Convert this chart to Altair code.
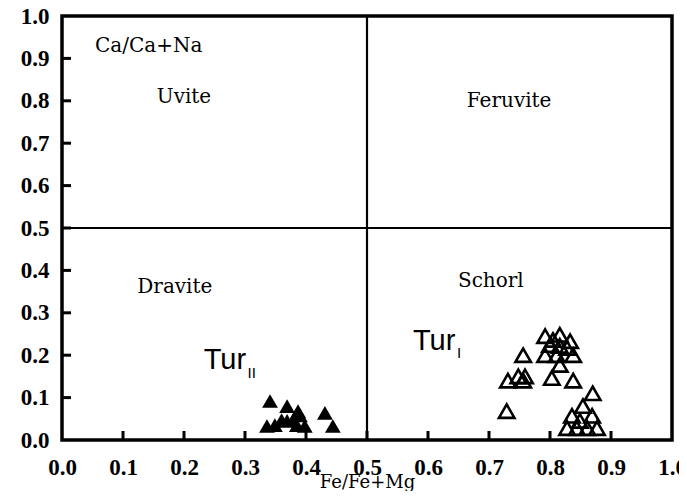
import altair as alt
import pandas as pd

# Tur_I (open triangles)
tur1_x = [0.756, 0.731, 0.748, 0.759, 0.756, 0.729, 0.803, 0.838, 0.870, 0.854,
          0.869, 0.836, 0.828, 0.844, 0.861, 0.877, 0.849,
          0.792, 0.816, 0.833, 0.800, 0.816, 0.838, 0.792, 0.811, 0.816, 0.828, 0.805]
tur1_y = [0.200, 0.140, 0.150, 0.150, 0.140, 0.068, 0.146, 0.140, 0.110, 0.080,
          0.057, 0.057, 0.028, 0.028, 0.028, 0.028, 0.045,
          0.245, 0.248, 0.233, 0.224, 0.222, 0.200, 0.200, 0.200, 0.177, 0.217, 0.236]

# Tur_II (filled triangles)
tur2_x = [0.341, 0.369, 0.387, 0.431, 0.390, 0.336, 0.349, 0.369, 0.385, 0.398,
          0.444, 0.360, 0.379]
tur2_y = [0.092, 0.080, 0.068, 0.064, 0.058, 0.033, 0.035, 0.045, 0.035, 0.033,
          0.033, 0.047, 0.047]

ticks = [0.1, 0.2, 0.3, 0.4, 0.5, 0.6, 0.7, 0.8, 0.9]
axis_values = [0.0, 0.1, 0.2, 0.3, 0.4, 0.5, 0.6, 0.7, 0.8, 0.9, 1.0]

field_names = ["Uvite", "Feruvite", "Dravite", "Schorl"]
field_x = [0.200, 0.733, 0.185, 0.703]
field_y = [0.808, 0.800, 0.360, 0.375]

serif = "DejaVu Serif"
tick_font = "Liberation Serif"
sans = "Liberation Sans"

xs = alt.Scale(domain=[0, 1], nice=False, zero=False)
ys = alt.Scale(domain=[0, 1], nice=False, zero=False)

df1 = pd.DataFrame({"x": tur1_x, "y": tur1_y})
df2 = pd.DataFrame({"x": tur2_x, "y": tur2_y})
dft = pd.DataFrame({"t": ticks})
dff = pd.DataFrame({"name": field_names, "x": field_x, "y": field_y})

base_axes = alt.Chart(dft).mark_point(opacity=0).encode(
    x=alt.X("t:Q", scale=xs, title="Fe/Fe+Mg",
            axis=alt.Axis(values=axis_values, format=".1f", grid=False, domain=False,
                          ticks=False, labelPadding=16,
                          titleY=47, titleBaseline="alphabetic",
                          labelFont=tick_font, labelFontSize=23, labelFontWeight="bold",
                          labelColor="black", labelFlush=False, titleFont=serif,
                          titleFontSize=18, titleFontWeight="normal", titleColor="black")),
    y=alt.Y("t:Q", scale=ys, title=None,
            axis=alt.Axis(values=axis_values, format=".1f", grid=False, domain=False,
                          ticks=False, labelPadding=13, labelFont=tick_font, labelFontSize=23,
                          labelFontWeight="bold", labelColor="black", labelFlush=False)),
)

ytick = alt.Chart(dft).mark_rule(color="black", strokeWidth=3).encode(
    y=alt.Y("t:Q", scale=ys), x=alt.value(0), x2=alt.value(9))
xtick = alt.Chart(dft).mark_rule(color="black", strokeWidth=3).encode(
    x=alt.X("t:Q", scale=xs), y=alt.value(424), y2=alt.value(415))

vline = alt.Chart(pd.DataFrame({"v": [0.5]})).mark_rule(color="black", strokeWidth=2.2).encode(
    x=alt.X("v:Q", scale=xs))
hline = alt.Chart(pd.DataFrame({"v": [0.5]})).mark_rule(color="black", strokeWidth=2.2).encode(
    y=alt.Y("v:Q", scale=ys))

pts1 = alt.Chart(df1).mark_point(shape="triangle-up", filled=False, color="black",
                                 strokeWidth=2.6, size=240, opacity=1).encode(
    x=alt.X("x:Q", scale=xs), y=alt.Y("y:Q", scale=ys))
pts2 = alt.Chart(df2).mark_point(shape="triangle-up", filled=True, color="black",
                                 size=250, opacity=1).encode(
    x=alt.X("x:Q", scale=xs), y=alt.Y("y:Q", scale=ys))

fields = alt.Chart(dff).mark_text(font=serif, fontSize=20, color="black").encode(
    x=alt.X("x:Q", scale=xs), y=alt.Y("y:Q", scale=ys), text="name:N")

cana = alt.Chart(pd.DataFrame({"x": [0.054], "y": [0.930], "t": ["Ca/Ca+Na"]})).mark_text(
    font=serif, fontSize=20, align="left", color="black").encode(
    x=alt.X("x:Q", scale=xs), y=alt.Y("y:Q", scale=ys), text="t:N")

tur_main = alt.Chart(pd.DataFrame({"x": [0.267, 0.610], "y": [0.189, 0.233],
                                   "t": ["Tur", "Tur"]})).mark_text(
    font=sans, fontSize=29, color="black").encode(
    x=alt.X("x:Q", scale=xs), y=alt.Y("y:Q", scale=ys), text="t:N")
tur_sub = alt.Chart(pd.DataFrame({"x": [0.311, 0.651], "y": [0.158, 0.205],
                                  "t": ["II", "I"]})).mark_text(
    font=sans, fontSize=15, color="black").encode(
    x=alt.X("x:Q", scale=xs), y=alt.Y("y:Q", scale=ys), text="t:N")

chart = alt.layer(base_axes, ytick, xtick, vline, hline, fields, cana, tur_main, tur_sub,
                  pts2, pts1).properties(
    width=610, height=424,
    background="white",
    autosize=alt.AutoSizeParams(type="none"),
    padding={"left": 54, "top": 8, "right": 7, "bottom": 51},
).configure_view(stroke="black", strokeWidth=3.5)

chart.save("out.html", embed_options={"renderer": "svg", "actions": False})
